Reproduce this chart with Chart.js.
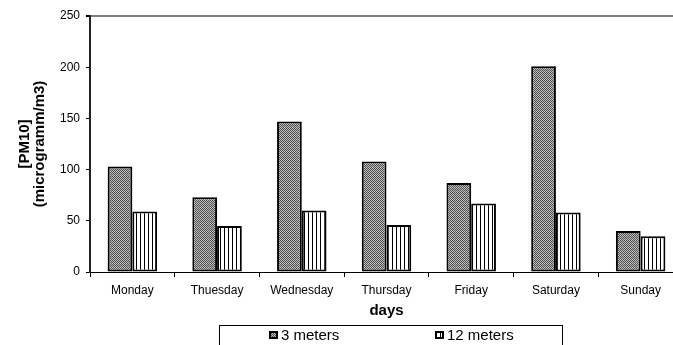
<!DOCTYPE html>
<html>
<head>
<meta charset="utf-8">
<script src="https://cdn.jsdelivr.net/npm/chart.js@4/dist/chart.umd.min.js"></script>
<style>
  html, body { margin: 0; padding: 0; overflow: hidden; background: #fff; }
  #wrap { width: 684px; height: 345px; }
</style>
</head>
<body>
<div id="wrap"><canvas id="c" width="684" height="345"></canvas></div>
<script>
// PM10 concentration per weekday at two measuring heights
const categories = ['Monday', 'Thuesday', 'Wednesday', 'Thursday', 'Friday', 'Saturday', 'Sunday'];
const seriesLabels = ['3 meters', '12 meters'];
const values3m = [103, 73, 147, 108, 87, 201, 40];
const values12m = [59, 45, 60, 46, 67, 58, 35];
const yTicks = [0, 50, 100, 150, 200, 250];

const FONT = 'Liberation Sans, Arial, sans-serif';

// Fine grey checker fill
function checkerPattern() {
  const c = document.createElement('canvas');
  c.width = 4; c.height = 4;
  const g = c.getContext('2d');
  for (let y = 0; y < 4; y++) {
    for (let x = 0; x < 4; x++) {
      let col = ((x + y) % 2 === 0) ? '#505050' : '#b8b8b8';
      if (y === 3 && (x + y) % 2 === 1) col = '#cccccc';
      g.fillStyle = col;
      g.fillRect(x, y, 1, 1);
    }
  }
  return g.createPattern(c, 'repeat');
}

// White fill with thin vertical black stripes
function stripePattern() {
  const c = document.createElement('canvas');
  c.width = 4; c.height = 4;
  const g = c.getContext('2d');
  g.fillStyle = '#ffffff';
  g.fillRect(0, 0, 4, 4);
  g.fillStyle = '#000000';
  g.fillRect(0, 0, 1, 4);
  return g.createPattern(c, 'repeat');
}

const fills = [checkerPattern(), stripePattern()];

// Framed legend drawn under the axis title
const boxedLegend = {
  id: 'boxedLegend',
  afterDraw(chart) {
    const ctx = chart.ctx;
    ctx.save();
    ctx.strokeStyle = '#000';
    ctx.lineWidth = 1;
    ctx.strokeRect(219.5, 325.5, 343, 40);
    const items = [{ x: 269, tx: 281 }, { x: 435, tx: 447 }];
    chart.data.datasets.forEach((ds, i) => {
      const it = items[i];
      ctx.fillStyle = '#000';
      ctx.fillRect(it.x, 331, 9, 8);
      ctx.fillStyle = ds.backgroundColor;
      ctx.fillRect(it.x + 2, 333, 5, 4);
      ctx.fillStyle = '#000';
      ctx.font = '15px ' + FONT;
      ctx.textBaseline = 'middle';
      ctx.textAlign = 'left';
      ctx.fillText(ds.label, it.tx, 335.5);
    });
    ctx.restore();
  }
};

new Chart(document.getElementById('c'), {
  type: 'bar',
  data: {
    labels: categories,
    datasets: [
      {
        label: seriesLabels[0],
        data: values3m,
        backgroundColor: fills[0],
        borderColor: '#000',
        borderWidth: 2,
        borderSkipped: false,
        categoryPercentage: 0.584,
        barPercentage: 1.0
      },
      {
        label: seriesLabels[1],
        data: values12m,
        backgroundColor: fills[1],
        borderColor: '#000',
        borderWidth: 2,
        borderSkipped: false,
        categoryPercentage: 0.584,
        barPercentage: 1.0
      }
    ]
  },
  options: {
    responsive: false,
    animation: false,
    devicePixelRatio: 1,
    layout: { padding: { left: 0, top: 16, right: 1, bottom: 0 } },
    plugins: {
      legend: { display: false },
      tooltip: { enabled: false }
    },
    scales: {
      x: {
        offset: true,
        afterFit(scale) { scale.height = 73; },
        grid: {
          offset: true,
          drawOnChartArea: false,
          color: '#000',
          tickColor: '#000',
          tickLength: 5,
          lineWidth: 1
        },
        border: { color: '#000', width: 1 },
        ticks: {
          color: '#000',
          font: { family: FONT, size: 12 },
          padding: 6,
          maxRotation: 0,
          autoSkip: false
        },
        title: {
          display: true,
          text: 'days',
          color: '#000',
          font: { family: FONT, size: 15, weight: 'bold' },
          padding: { top: 0, bottom: 25 }
        }
      },
      y: {
        min: 0,
        max: 250,
        afterFit(scale) { scale.width = 90; },
        afterBuildTicks(scale) { scale.ticks = yTicks.map(v => ({ value: v })); },
        grid: {
          drawOnChartArea: true,
          color: ctx => (ctx.tick && ctx.tick.value === 250) ? '#808080' : 'rgba(0,0,0,0)',
          lineWidth: ctx => (ctx.tick && ctx.tick.value === 250) ? 2 : 1,
          tickColor: '#000',
          tickLength: 4
        },
        border: { color: '#222', width: 2 },
        ticks: {
          color: '#000',
          font: { family: FONT, size: 12 },
          padding: 6
        },
        title: {
          display: true,
          text: ['[PM10]', '(microgramm/m3)'],
          color: '#000',
          font: { family: FONT, size: 15, weight: 'bold', lineHeight: 0.95 },
          padding: { top: 18, bottom: 0 }
        }
      }
    }
  },
  plugins: [boxedLegend]
});
</script>
</body>
</html>
